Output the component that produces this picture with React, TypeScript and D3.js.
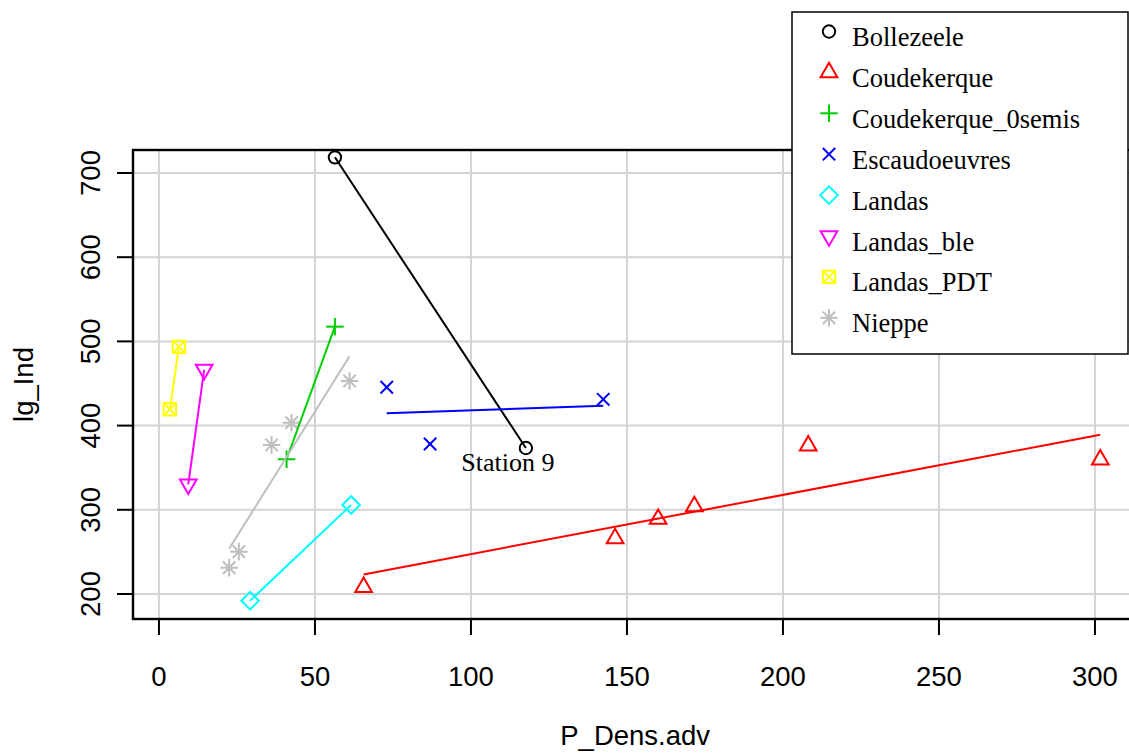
import React from 'react';
import * as d3 from 'd3';

// ---------- data ----------
const groups = ['Bollezeele', 'Coudekerque', 'Coudekerque_0semis', 'Escaudoeuvres', 'Landas', 'Landas_ble', 'Landas_PDT', 'Nieppe'];
const groupColors = ['#000000', '#FF0000', '#00CD00', '#0000FF', '#00FFFF', '#FF00FF', '#FFFF00', '#BEBEBE'];
const groupPch = [1, 2, 3, 4, 5, 6, 7, 8];

const bollezeeleX = [56.4, 117.6];
const bollezeeleY = [718.6, 373.4];
const coudekerqueX = [65.6, 146.2, 160.0, 171.6, 208.1, 301.7];
const coudekerqueY = [208.2, 266.0, 289.0, 304.0, 376.1, 359.5];
const coudekerque0X = [40.9, 56.4];
const coudekerque0Y = [360.0, 517.5];
const escaudoeuvresX = [73.0, 86.9, 142.4];
const escaudoeuvresY = [445.5, 378.1, 431.2];
const landasX = [29.2, 61.6];
const landasY = [192.0, 305.7];
const landasBleX = [14.5, 9.4];
const landasBleY = [466.5, 330.3];
const landasPdtX = [6.4, 3.5];
const landasPdtY = [493.5, 419.4];
const nieppeX = [61.1, 42.5, 36.1, 25.6, 22.5];
const nieppeY = [453.0, 403.4, 377.0, 250.2, 231.2];

const seriesX = [bollezeeleX, coudekerqueX, coudekerque0X, escaudoeuvresX, landasX, landasBleX, landasPdtX, nieppeX];
const seriesY = [bollezeeleY, coudekerqueY, coudekerque0Y, escaudoeuvresY, landasY, landasBleY, landasPdtY, nieppeY];

const xTicks = [0, 50, 100, 150, 200, 250, 300];
const yTicks = [200, 300, 400, 500, 600, 700];
const xDomain = [-8.32, 313.6];
const yDomain = [170.3, 727.3];

const annotationText = 'Station 9';
const annotationPoint = { x: 117.6, y: 373.4 };

const xTitle = 'P_Dens.adv';
const yTitle = 'lg_Ind';

// ---------- helpers ----------
function fit(xs: number[], ys: number[]) {
  const mx = d3.mean(xs)!;
  const my = d3.mean(ys)!;
  let sxy = 0, sxx = 0;
  xs.forEach((x, i) => { sxy += (x - mx) * (ys[i] - my); sxx += (x - mx) * (x - mx); });
  const b = sxy / sxx;
  const a = my - b * mx;
  const x0 = d3.min(xs)!, x1 = d3.max(xs)!;
  return [[x0, a + b * x0], [x1, a + b * x1]];
}

const S = 6.2;
function Symbol({ pch, cx, cy, color }: { pch: number; cx: number; cy: number; color: string }) {
  const sw = 2;
  const common = { stroke: color, strokeWidth: sw, fill: 'none' } as any;
  const t0 = 1.5551, t1 = 1.3468, t2 = 0.7776;
  const r2 = Math.SQRT2 * S;
  switch (pch) {
    case 1:
      return <circle cx={cx} cy={cy} r={S} {...common} />;
    case 2:
      return <polygon points={`${cx},${cy - t0 * S} ${cx + t1 * S},${cy + t2 * S} ${cx - t1 * S},${cy + t2 * S}`} {...common} />;
    case 3:
      return <g {...common}><line x1={cx - r2} y1={cy} x2={cx + r2} y2={cy} /><line x1={cx} y1={cy - r2} x2={cx} y2={cy + r2} /></g>;
    case 4:
      return <g {...common}><line x1={cx - S} y1={cy - S} x2={cx + S} y2={cy + S} /><line x1={cx - S} y1={cy + S} x2={cx + S} y2={cy - S} /></g>;
    case 5:
      return <polygon points={`${cx - r2},${cy} ${cx},${cy - r2} ${cx + r2},${cy} ${cx},${cy + r2}`} {...common} />;
    case 6:
      return <polygon points={`${cx},${cy + t0 * S} ${cx + t1 * S},${cy - t2 * S} ${cx - t1 * S},${cy - t2 * S}`} {...common} />;
    case 7:
      return <g {...common}><rect x={cx - S} y={cy - S} width={2 * S} height={2 * S} /><line x1={cx - S} y1={cy - S} x2={cx + S} y2={cy + S} /><line x1={cx - S} y1={cy + S} x2={cx + S} y2={cy - S} /></g>;
    case 8:
      return <g {...common}><line x1={cx - S} y1={cy - S} x2={cx + S} y2={cy + S} /><line x1={cx - S} y1={cy + S} x2={cx + S} y2={cy - S} /><line x1={cx - r2} y1={cy} x2={cx + r2} y2={cy} /><line x1={cx} y1={cy - r2} x2={cx} y2={cy + r2} /></g>;
    default:
      return null;
  }
}

export default function App() {
  const W = 1129, H = 753;
  const left = 133, right = 1137.4, top = 150, bottom = 619;
  const x = d3.scaleLinear().domain(xDomain).range([left, right]);
  const y = d3.scaleLinear().domain(yDomain).range([bottom, top]);
  const sans = '"Liberation Sans", Arial, Helvetica, sans-serif';
  const serif = '"Liberation Serif", "Times New Roman", serif';
  const line = d3.line<number[]>().x(d => x(d[0])).y(d => y(d[1]));

  const legX = 792, legY = 12, legW = 336, legH = 342;
  const legStep = 40.9;

  return (
    <svg width={W} height={H} style={{ position: 'absolute', left: 0, top: 0, background: '#fff' }}>
      <rect x={0} y={0} width={W} height={H} fill="#fff" />
      {/* grid */}
      <g stroke="#D3D3D3" strokeWidth={2}>
        {xTicks.map(t => <line key={'gx' + t} x1={x(t)} x2={x(t)} y1={top} y2={bottom} />)}
        {yTicks.map(t => <line key={'gy' + t} x1={left} x2={right} y1={y(t)} y2={y(t)} />)}
      </g>
      {/* box */}
      <rect x={left} y={top} width={right - left} height={bottom - top} fill="none" stroke="#000" strokeWidth={2.4} />
      {/* x axis */}
      <g>
        {xTicks.map(t => (
          <g key={'xt' + t}>
            <line x1={x(t)} x2={x(t)} y1={bottom} y2={bottom + 16} stroke="#000" strokeWidth={2} />
            <text x={x(t)} y={686} textAnchor="middle" fontFamily={sans} fontSize={27.5} fill="#000">{t}</text>
          </g>
        ))}
        <text x={(left + right) / 2} y={745} textAnchor="middle" fontFamily={sans} fontSize={27.5} fill="#000">{xTitle}</text>
      </g>
      {/* y axis */}
      <g>
        {yTicks.map(t => (
          <g key={'yt' + t}>
            <line x1={left - 16} x2={left} y1={y(t)} y2={y(t)} stroke="#000" strokeWidth={2} />
            <text transform={`translate(100,${y(t)}) rotate(-90)`} textAnchor="middle" fontFamily={sans} fontSize={27.5} fill="#000">{t}</text>
          </g>
        ))}
        <text transform={`translate(33,${(top + bottom) / 2}) rotate(-90)`} textAnchor="middle" fontFamily={sans} fontSize={27.5} fill="#000">{yTitle}</text>
      </g>
      {/* points */}
      {groups.map((g, gi) => (
        <g key={'p' + g}>
          {seriesX[gi].map((xv, i) => (
            <Symbol key={i} pch={groupPch[gi]} cx={x(xv)} cy={y(seriesY[gi][i])} color={groupColors[gi]} />
          ))}
        </g>
      ))}
      {/* regression lines */}
      {groups.map((g, gi) => (
        <path key={'l' + g} d={line(fit(seriesX[gi], seriesY[gi]))!} fill="none" stroke={groupColors[gi]} strokeWidth={2} />
      ))}
      {/* annotation */}
      <text x={x(annotationPoint.x) - 18} y={y(annotationPoint.y) + 23} textAnchor="middle" fontFamily={serif} fontSize={26} fill="#000">{annotationText}</text>
      {/* legend */}
      <rect x={legX} y={legY} width={legW} height={legH} fill="#fff" stroke="#000" strokeWidth={1.5} />
      {groups.map((g, gi) => (
        <g key={'leg' + g}>
          <Symbol pch={groupPch[gi]} cx={829} cy={31.5 + legStep * gi} color={groupColors[gi]} />
          <text x={852} y={46 + legStep * gi} fontFamily={serif} fontSize={26.5} fill="#000">{g}</text>
        </g>
      ))}
    </svg>
  );
}
